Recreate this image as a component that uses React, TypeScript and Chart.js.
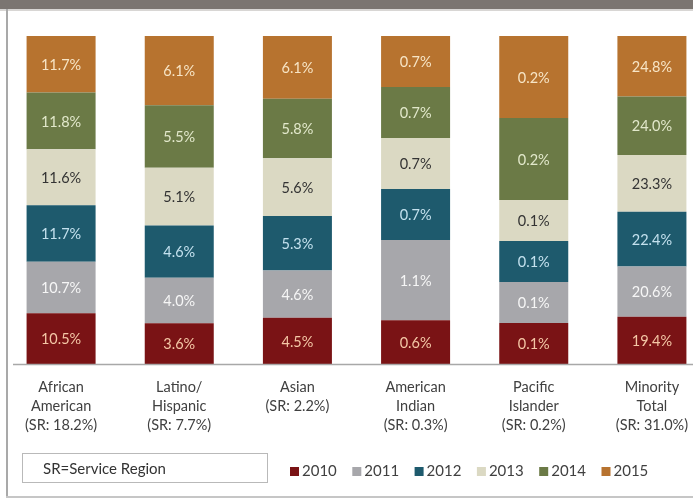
import React, { useEffect, useRef } from "react";
import { Chart, registerables } from "chart.js";
Chart.register(...registerables);

const categories: string[][] = [
  ["African", "American", "(SR: 18.2%)"],
  ["Latino/", "Hispanic", "(SR: 7.7%)"],
  ["Asian", "(SR: 2.2%)"],
  ["American", "Indian", "(SR: 0.3%)"],
  ["Pacific", "Islander", "(SR: 0.2%)"],
  ["Minority", "Total", "(SR: 31.0%)"],
];

const years = ["2010", "2011", "2012", "2013", "2014", "2015"];

const s2010 = [10.5, 3.6, 4.5, 0.6, 0.1, 19.4];
const s2011 = [10.7, 4.0, 4.6, 1.1, 0.1, 20.6];
const s2012 = [11.7, 4.6, 5.3, 0.7, 0.1, 22.4];
const s2013 = [11.6, 5.1, 5.6, 0.7, 0.1, 23.3];
const s2014 = [11.8, 5.5, 5.8, 0.7, 0.2, 24.0];
const s2015 = [11.7, 6.1, 6.1, 0.7, 0.2, 24.8];

const series = [s2010, s2011, s2012, s2013, s2014, s2015];

const barColors = ["#7a1315", "#a7a7ab", "#1e5a6d", "#dbd9c3", "#6b7a46", "#b7732f"];
const labelColors = ["#f4c7a6", "#f6f6f6", "#c4e1ee", "#333333", "#e2e8cb", "#f7e5c6"];

const FONT = "Lato, 'Open Sans', sans-serif";

const totals = categories.map((_, i) => series.reduce((a, s) => a + s[i], 0));

const segmentLabels = {
  id: "segmentLabels",
  afterDatasetsDraw(chart: any) {
    const ctx = chart.ctx;
    ctx.save();
    ctx.font = `14.5px ${FONT}`;
    ctx.textAlign = "center";
    ctx.textBaseline = "middle";
    chart.data.datasets.forEach((ds: any, di: number) => {
      const meta = chart.getDatasetMeta(di);
      meta.data.forEach((bar: any, i: number) => {
        const v = ds.raw[i];
        const cy = (bar.y + bar.base) / 2 + 1;
        ctx.fillStyle = ds.labelColor;
        ctx.fillText(v.toFixed(1) + "%", bar.x, cy);
      });
    });
    // axis line
    const y = Math.round(chart.chartArea.bottom) + 0.5;
    ctx.strokeStyle = "#a8a8a8";
    ctx.lineWidth = 1.5;
    ctx.beginPath();
    ctx.moveTo(13, y);
    ctx.lineTo(chart.width, y);
    ctx.stroke();
    ctx.restore();
  },
};

const customLegend = {
  id: "customLegend",
  afterDraw(chart: any) {
    const ctx = chart.ctx;
    ctx.save();
    ctx.font = `15px ${FONT}`;
    ctx.textBaseline = "middle";
    ctx.textAlign = "left";
    let x = 290;
    const cy = 471.5;
    const box = 9;
    chart.data.datasets.forEach((ds: any) => {
      ctx.fillStyle = ds.backgroundColor;
      ctx.fillRect(x, cy - box / 2, box, box);
      ctx.fillStyle = "#404040";
      ctx.fillText(ds.label, x + box + 3, cy);
      const w = ctx.measureText(ds.label).width;
      x += box + 3 + w + 15.5;
    });
    ctx.restore();
  },
};

export default function App() {
  const ref = useRef<HTMLCanvasElement | null>(null);
  useEffect(() => {
    if (!ref.current) return;
    const chart = new Chart(ref.current, {
      type: "bar",
      data: {
        labels: categories,
        datasets: series.map((s, di) => ({
          label: years[di],
          data: s.map((v, i) => (v / totals[i]) * 100),
          raw: s,
          labelColor: labelColors[di],
          backgroundColor: barColors[di],
          borderWidth: 0,
          barPercentage: 0.584,
          categoryPercentage: 1,
        })) as any,
      },
      options: {
        animation: false,
        responsive: false,
        devicePixelRatio: 1,
        layout: { padding: { left: 2, right: 9, top: 36, bottom: 53 } },
        plugins: { legend: { display: false }, tooltip: { enabled: false } },
        scales: {
          x: {
            stacked: true,
            grid: { display: false, drawTicks: false },
            border: { display: false },
            ticks: {
              color: "#404040",
              font: { family: FONT, size: 14.5, lineHeight: 1.31 },
              padding: 14,
              maxRotation: 0,
              autoSkip: false,
            },
          },
          y: { stacked: true, display: false, min: 0, max: 100 },
        },
      },
      plugins: [segmentLabels, customLegend],
    });
    return () => chart.destroy();
  }, []);

  return (
    <div
      style={{
        position: "fixed",
        left: 0,
        top: 0,
        width: 693,
        height: 502,
        overflow: "hidden",
        background: "#ffffff",
      }}
    >
      <canvas ref={ref} width={720} height={502} style={{ position: "absolute", left: 0, top: 0 }} />
      <div style={{ position: "absolute", left: 0, top: 0, width: 693, height: 9, background: "#7b7571" }} />
      <div style={{ position: "absolute", left: 0, top: 9, width: 693, height: 2, background: "#d8d6d4" }} />
      <div style={{ position: "absolute", left: 6, top: 9, width: 2, height: 488, background: "#a9a9a9" }} />
      <div style={{ position: "absolute", left: 6, top: 496, width: 687, height: 2, background: "#c6c6c6" }} />
      <div
        style={{
          position: "absolute",
          left: 22,
          top: 453,
          width: 224,
          height: 28,
          border: "1.5px solid #b9b9b9",
          fontFamily: FONT,
          fontSize: 15,
          color: "#333333",
          lineHeight: "29px",
          paddingLeft: 20,
          boxSizing: "content-box",
        }}
      >
        SR=Service Region
      </div>
    </div>
  );
}
